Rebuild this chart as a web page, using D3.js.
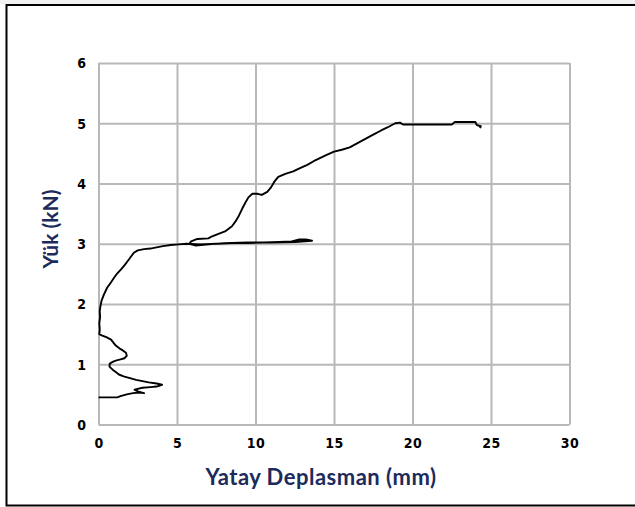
<!DOCTYPE html>
<html>
<head>
<meta charset="utf-8">
<script src="https://cdn.jsdelivr.net/npm/d3@7"></script>
<style>
html,body{margin:0;padding:0;background:#fff;}
svg{display:block;}
</style>
</head>
<body>
<svg id="chart" width="635" height="507"></svg>
<script>
// ---- data ----
const xTicks = [0, 5, 10, 15, 20, 25, 30];
const yTicks = [0, 1, 2, 3, 4, 5, 6];
const xTitle = "Yatay Deplasman (mm)";
const yTitle = "Yük (kN)";
const dispMm = [0.0,0.6,1.2,1.4,1.8,2.2,2.6,2.9,2.5,2.3,2.8,3.3,3.7,4.05,3.7,3.2,2.8,2.4,2.0,1.6,1.3,1.1,0.9,0.7,0.72,0.9,1.1,1.4,1.65,1.8,1.75,1.55,1.35,1.1,0.95,0.8,0.5,0.2,0.05,0.08,0.05,0.1,0.08,0.12,0.2,0.35,0.55,0.8,1.0,1.2,1.45,1.65,1.85,2.05,2.25,2.5,2.9,3.3,3.7,4.1,4.6,5.1,5.6,6.5,7.5,8.5,9.5,10.5,11.5,12.3,12.8,13.2,13.6,12.5,11.0,9.5,8.0,7.0,6.2,5.8,5.9,6.3,7.0,7.2,7.6,8.1,8.5,8.75,8.95,9.15,9.35,9.55,9.8,10.1,10.4,10.75,11.0,11.2,11.45,11.9,12.4,12.8,13.3,13.7,14.1,14.5,15.0,15.5,16.0,16.5,17.0,17.5,18.0,18.4,18.9,19.2,19.4,20.5,21.5,22.5,22.7,23.5,24.0,24.1,24.35,24.3];
const loadKn = [0.45,0.45,0.45,0.47,0.50,0.52,0.53,0.52,0.55,0.58,0.61,0.62,0.63,0.66,0.68,0.70,0.72,0.74,0.77,0.80,0.83,0.87,0.91,0.96,1.01,1.04,1.06,1.08,1.10,1.14,1.19,1.23,1.26,1.31,1.36,1.41,1.45,1.48,1.50,1.58,1.68,1.78,1.88,1.96,2.06,2.16,2.27,2.36,2.44,2.51,2.58,2.64,2.71,2.78,2.85,2.89,2.91,2.92,2.94,2.96,2.98,2.99,3.00,2.99,3.00,3.01,3.01,3.02,3.03,3.04,3.07,3.07,3.05,3.03,3.02,3.02,3.01,2.99,2.97,3.00,3.04,3.08,3.09,3.12,3.16,3.21,3.29,3.38,3.47,3.58,3.68,3.77,3.83,3.83,3.81,3.86,3.94,4.03,4.11,4.16,4.20,4.25,4.31,4.37,4.42,4.47,4.53,4.56,4.60,4.67,4.74,4.81,4.88,4.93,5.00,5.01,4.98,4.98,4.98,4.98,5.02,5.02,5.02,4.97,4.95,4.92];

// ---- drawing ----
const svg = d3.select("#chart");
const L = 98.5, R = 569.5, T = 63, B = 424.5;
const x = d3.scaleLinear().domain([0, 30]).range([L, R]);
const y = d3.scaleLinear().domain([0, 6]).range([B, T]);

// light band above the frame
svg.append("rect").attr("x", 0).attr("y", 0).attr("width", 635).attr("height", 4).attr("fill", "#f2f2f2");
// outer frame (right side cropped in the source)
svg.append("path")
  .attr("d", "M635,5 L6.5,5 L6.5,505.5 L635,505.5")
  .attr("fill", "none").attr("stroke", "#000").attr("stroke-width", 2);

const gridColor = "#b8b8b8";
const gx = svg.append("g").attr("transform", `translate(0,${B})`)
  .call(d3.axisBottom(x).tickValues(xTicks).tickSize(-(B - T)).tickFormat(d3.format("d")));
const gy = svg.append("g").attr("transform", `translate(${L},0)`)
  .call(d3.axisLeft(y).tickValues(yTicks).tickSize(-(R - L)).tickFormat(d3.format("d")).tickPadding(12));
[gx, gy].forEach(g => {
  g.select(".domain").remove();
  g.selectAll(".tick line").attr("stroke", gridColor).attr("stroke-width", 2);
  g.selectAll(".tick text")
    .attr("fill", "#000")
    .style("font-family", "'Liberation Sans Narrow','DejaVu Sans Condensed',sans-serif")
    .style("font-weight", "bold")
    .style("font-size", "14px")
    .style("letter-spacing", "0.5px");
});
gx.selectAll(".tick text").attr("dy", "0.35em").attr("y", 18.5);
gy.selectAll(".tick text").attr("dy", "0.35em");

// line
const pts = dispMm.map((d, i) => [d, loadKn[i]]);
svg.append("path")
  .datum(pts)
  .attr("fill", "none")
  .attr("stroke", "#000")
  .attr("stroke-width", 1.9)
  .attr("stroke-linejoin", "round")
  .attr("d", d3.line().x(d => x(d[0])).y(d => y(d[1])));

// titles
const titleFont = "Lato, 'Open Sans', sans-serif";
svg.append("text")
  .attr("x", 321).attr("y", 477).attr("dy", "0.35em")
  .attr("text-anchor", "middle")
  .attr("fill", "#1c2a5c")
  .style("font-family", titleFont).style("font-weight", "bold").style("font-size", "22px")
  .style("letter-spacing", "0.5px")
  .text(xTitle);
svg.append("text")
  .attr("transform", "translate(51,229) rotate(-90)")
  .attr("dy", "0.35em")
  .attr("text-anchor", "middle")
  .attr("fill", "#1c2a5c")
  .style("font-family", titleFont).style("font-weight", "bold").style("font-size", "21px")
  .text(yTitle);
</script>
</body>
</html>
